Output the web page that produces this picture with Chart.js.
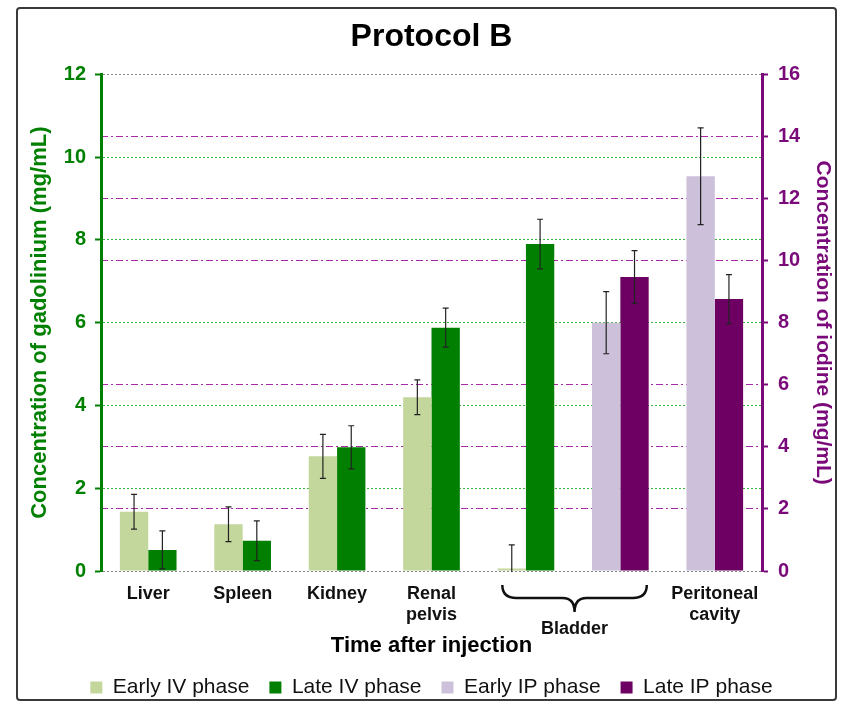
<!DOCTYPE html>
<html>
<head>
<meta charset="utf-8">
<script src="https://cdn.jsdelivr.net/npm/chart.js@4.4.1/dist/chart.umd.min.js"></script>
<style>
  html, body { margin: 0; padding: 0; background: #fff; }
  canvas { display: block; }
</style>
</head>
<body>
<canvas id="myChart" width="848" height="708"></canvas>
<script>
// Protocol B - gadolinium (left axis) / iodine (right axis)

const categories = ['Liver', 'Spleen', 'Kidney', ['Renal', 'pelvis'], '', '', ['Peritoneal', 'cavity']];
const braceLabel = 'Bladder';
const braceFrom = 4;
const braceTo = 5;

// IV phases, mg/mL gadolinium (left axis)
const earlyIV = [1.43, 1.13, 2.77, 4.20, 0.06, null, null];
const earlyIVErr = [0.42, 0.42, 0.53, 0.42, 0.57, null, null];
const lateIV = [0.51, 0.73, 2.99, 5.88, 7.90, null, null];
const lateIVErr = [0.46, 0.48, 0.52, 0.47, 0.60, null, null];

// IP phases, mg/mL iodine (right axis)
const earlyIP = [null, null, null, null, null, 8.00, 12.72];
const earlyIPErr = [null, null, null, null, null, 1.00, 1.56];
const lateIP = [null, null, null, null, null, 9.47, 8.76];
const lateIPErr = [null, null, null, null, null, 0.85, 0.79];

const FONT = '"Liberation Sans", Arial, sans-serif';
const GREEN = '#008000';
const PURPLE = '#7a0a7a';

window.addEventListener('load', setup);

const framePlugin = {
    id: 'frame',
    beforeDraw(chart) {
        const ctx = chart.ctx;
        ctx.save();
        ctx.fillStyle = '#fff';
        ctx.fillRect(0, 0, chart.width, chart.height);
        ctx.strokeStyle = '#3a3a3a';
        ctx.lineWidth = 2;
        ctx.beginPath();
        ctx.roundRect(17, 8, 819, 692, 3);
        ctx.stroke();
        ctx.restore();
    }
};

const errorBarPlugin = {
    id: 'errorBars',
    afterDatasetsDraw(chart) {
        const ctx = chart.ctx;
        const area = chart.chartArea;
        ctx.save();
        ctx.beginPath();
        ctx.rect(area.left, area.top, area.right - area.left, area.bottom - area.top + 1);
        ctx.clip();
        ctx.strokeStyle = '#222';
        ctx.lineWidth = 1.2;
        chart.data.datasets.forEach((ds, di) => {
            const meta = chart.getDatasetMeta(di);
            const scale = chart.scales[ds.yAxisID];
            meta.data.forEach((bar, i) => {
                const v = ds.data[i];
                const e = ds.errors[i];
                if (v === null || e === null) return;
                const yTop = scale.getPixelForValue(v + e);
                const yBot = scale.getPixelForValue(v - e);
                ctx.beginPath();
                ctx.moveTo(bar.x, yTop);
                ctx.lineTo(bar.x, yBot);
                ctx.moveTo(bar.x - 3, yTop);
                ctx.lineTo(bar.x + 3, yTop);
                ctx.moveTo(bar.x - 3, yBot);
                ctx.lineTo(bar.x + 3, yBot);
                ctx.stroke();
            });
        });
        ctx.restore();
    }
};

const bracePlugin = {
    id: 'brace',
    afterDraw(chart) {
        const x = chart.scales.x;
        const ctx = chart.ctx;
        const w = x.getPixelForValue(1) - x.getPixelForValue(0);
        const xa = x.getPixelForValue(braceFrom) - 0.25 * w;
        const xb = x.getPixelForValue(braceTo) + 0.28 * w;
        const mid = (xa + xb) / 2;
        const y0 = x.top + 14;
        const y1 = y0 + 13;
        const y2 = y0 + 27;
        ctx.save();
        ctx.strokeStyle = '#111';
        ctx.lineWidth = 2.5;
        ctx.beginPath();
        ctx.moveTo(xa, y0);
        ctx.quadraticCurveTo(xa, y1, xa + 14, y1);
        ctx.lineTo(mid - 12, y1);
        ctx.quadraticCurveTo(mid, y1, mid, y2);
        ctx.quadraticCurveTo(mid, y1, mid + 12, y1);
        ctx.lineTo(xb - 14, y1);
        ctx.quadraticCurveTo(xb, y1, xb, y0);
        ctx.stroke();
        ctx.fillStyle = '#111';
        ctx.font = 'bold 18px ' + FONT;
        ctx.textAlign = 'center';
        ctx.textBaseline = 'middle';
        ctx.fillText(braceLabel, mid, y2 + 17);
        ctx.restore();
    }
};

function setup() {
    const ctx = document.getElementById('myChart').getContext('2d');
    const myChart = new Chart(ctx, {
        type: 'bar',
        data: {
            labels: categories,
            datasets: [{
                label: 'Early IV phase',
                data: earlyIV,
                errors: earlyIVErr,
                yAxisID: 'y',
                backgroundColor: '#c3d69b'
            }, {
                label: 'Late IV phase',
                data: lateIV,
                errors: lateIVErr,
                yAxisID: 'y',
                backgroundColor: '#007f00'
            }, {
                label: 'Early IP phase',
                data: earlyIP,
                errors: earlyIPErr,
                yAxisID: 'y1',
                backgroundColor: '#ccc0da'
            }, {
                label: 'Late IP phase',
                data: lateIP,
                errors: lateIPErr,
                yAxisID: 'y1',
                backgroundColor: '#6e0063'
            }]
        },
        options: {
            responsive: false,
            animation: false,
            skipNull: true,
            categoryPercentage: 0.6,
            barPercentage: 1.0,
            layout: { padding: { left: 25, right: 10, top: 8, bottom: 0 } },
            plugins: {
                title: {
                    display: true,
                    text: 'Protocol B',
                    color: '#000',
                    font: { family: FONT, size: 32, weight: 'bold' },
                    padding: { top: 10, bottom: 18 }
                },
                legend: {
                    position: 'bottom',
                    labels: {
                        color: '#111',
                        font: { family: FONT, size: 21 },
                        boxWidth: 12,
                        boxHeight: 12,
                        padding: 20
                    }
                },
                tooltip: { enabled: false }
            },
            scales: {
                x: {
                    grid: { display: false, drawTicks: false },
                    border: { display: false },
                    ticks: {
                        color: '#111',
                        font: { family: FONT, size: 18, weight: 'bold' },
                        padding: 12,
                        maxRotation: 0,
                        autoSkip: false
                    },
                    title: {
                        display: true,
                        text: 'Time after injection',
                        color: '#000',
                        font: { family: FONT, size: 22, weight: 'bold' },
                        padding: { top: 0, bottom: -2 }
                    },
                    afterFit: s => { s.height = 86; }
                },
                y: {
                    position: 'left',
                    min: 0,
                    max: 12,
                    ticks: {
                        stepSize: 2,
                        color: GREEN,
                        font: { family: FONT, size: 20, weight: 'bold' },
                        padding: 9
                    },
                    grid: {
                        color: c => (c.tick && (c.tick.value === 0 || c.tick.value === 12)) ? '#8a8a8a' : '#3cb43c',
                        lineWidth: 1,
                        tickColor: GREEN,
                        tickWidth: 2,
                        tickLength: 6,
                        tickBorderDash: []
                    },
                    border: { display: true, color: GREEN, width: 3, dash: [2, 2] },
                    title: {
                        display: true,
                        text: 'Concentration of gadolinium (mg/mL)',
                        color: GREEN,
                        font: { family: FONT, size: 22, weight: 'bold' },
                        padding: { top: 2, bottom: 0 }
                    },
                    afterFit: s => { s.width = 76; }
                },
                y1: {
                    position: 'right',
                    min: 0,
                    max: 16,
                    ticks: {
                        stepSize: 2,
                        color: PURPLE,
                        font: { family: FONT, size: 20, weight: 'bold' },
                        padding: 10
                    },
                    grid: {
                        color: c => (c.tick && [0, 8, 16].includes(c.tick.value)) ? 'rgba(0,0,0,0)' : '#a828a8',
                        lineWidth: 1,
                        tickColor: PURPLE,
                        tickWidth: 2,
                        tickLength: 6,
                        tickBorderDash: []
                    },
                    border: { display: true, color: PURPLE, width: 3, dash: [7, 3, 2, 3] },
                    title: {
                        display: true,
                        text: 'Concentration of iodine (mg/mL)',
                        color: PURPLE,
                        font: { family: FONT, size: 21, weight: 'bold' },
                        padding: { top: 3, bottom: 0 }
                    },
                    afterFit: s => { s.width = 76; }
                }
            }
        },
        plugins: [framePlugin, errorBarPlugin, bracePlugin]
    });
}
</script>
</body>
</html>
